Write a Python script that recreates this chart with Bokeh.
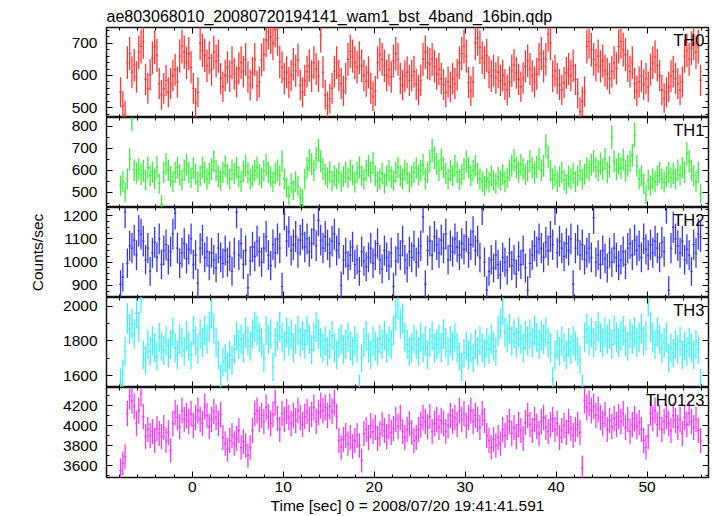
import numpy as np
from bokeh.plotting import figure
from bokeh.layouts import column
from bokeh.models import (ColumnDataSource, LinearAxis, Range1d, Label,
                          SingleIntervalTicker, Title, CustomLabelingPolicy)
from bokeh.embed import file_html
from bokeh.resources import INLINE

# ---------------- data ----------------
title_text = "ae803068010_20080720194141_wam1_bst_4band_16bin.qdp"
xlabel_text = "Time [sec] 0 = 2008/07/20 19:41:41.591"
ylabel_text = "Counts/sec"
band_names = ["TH0", "TH1", "TH2", "TH3", "TH0123"]
t_start = -7.875   # centre of first bin [s]
bin_width = 0.25   # [s]

th0 = [548, 505, 478, 640, 668, 610, 632, 595, 672, 690,
       705, 588, 560, 602, 655, 688, 662, 575, 540, 560,
       585, 548, 575, 600, 618, 580, 660, 690, 672, 640,
       668, 625, 560, 515, 548, 700, 678, 662, 630, 655,
       618, 672, 645, 660, 590, 565, 600, 625, 598, 640,
       605, 580, 622, 640, 612, 650, 595, 570, 608, 650,
       568, 580, 648, 665, 710, 735, 720, 700, 742, 715,
       642, 625, 590, 610, 578, 600, 635, 615, 648, 570,
       548, 585, 612, 630, 598, 640, 620, 598, 725, 610,
       540, 505, 528, 560, 612, 640, 600, 575, 552, 590,
       650, 675, 660, 640, 625, 655, 630, 600, 582, 610,
       560, 535, 552, 640, 665, 650, 630, 600, 618, 595,
       645, 668, 650, 590, 570, 598, 610, 585, 600, 612,
       572, 555, 585, 650, 672, 640, 635, 650, 628, 605,
       620, 590, 572, 548, 580, 565, 590, 575, 602, 640,
       668, 690, 660, 578, 552, 580, 700, 715, 688, 655,
       640, 662, 610, 598, 615, 592, 610, 585, 600, 572,
       555, 580, 615, 632, 608, 588, 565, 592, 628, 645,
       620, 598, 580, 605, 650, 668, 628, 650, 728, 700,
       598, 615, 590, 572, 555, 578, 608, 620, 600, 630,
       588, 545, 488, 520, 550, 690, 705, 680, 650, 632,
       660, 628, 645, 615, 605, 590, 612, 640, 622, 690,
       705, 680, 665, 630, 612, 640, 575, 552, 580, 598,
       572, 590, 565, 618, 640, 658, 632, 600, 555, 530,
       548, 565, 598, 612, 590, 575, 555, 580, 660, 678,
       650, 685, 700, 672, 690, 585]

th1 = [530, 548, 500, 560, 650, 835, 600, 588, 605, 580,
       598, 555, 612, 575, 590, 560, 615, 540, 445, 590,
       628, 600, 572, 548, 590, 612, 580, 555, 600, 625,
       590, 565, 608, 582, 548, 575, 612, 590, 560, 585,
       605, 640, 598, 572, 555, 590, 618, 582, 560, 600,
       585, 612, 570, 548, 595, 620, 588, 560, 575, 598,
       612, 580, 565, 598, 625, 590, 570, 548, 585, 600,
       575, 640, 560, 520, 485, 540, 510, 548, 528, 478,
       470, 560, 610, 645, 628, 600, 655, 690, 640, 605,
       580, 565, 592, 550, 575, 560, 588, 548, 570, 590,
       565, 600, 578, 545, 590, 612, 575, 560, 598, 620,
       590, 632, 575, 548, 560, 585, 540, 575, 598, 568,
       552, 590, 612, 575, 560, 600, 585, 545, 572, 590,
       610, 578, 598, 625, 560, 590, 640, 690, 655, 628,
       600, 648, 612, 585, 560, 598, 575, 620, 590, 558,
       580, 605, 640, 612, 575, 598, 620, 585, 560, 548,
       528, 560, 545, 575, 552, 540, 568, 555, 580, 548,
       565, 600, 620, 645, 612, 590, 625, 605, 580, 598,
       640, 612, 588, 615, 650, 600, 620, 710, 660, 598,
       560, 575, 548, 570, 590, 555, 538, 572, 560, 585,
       548, 575, 598, 560, 582, 610, 600, 625, 640, 612,
       598, 630, 605, 650, 590, 615, 750, 640, 605, 628,
       610, 648, 598, 620, 640, 668, 760, 620, 560, 575,
       540, 490, 555, 530, 560, 548, 575, 590, 560, 545,
       570, 590, 565, 585, 560, 600, 578, 612, 590, 675,
       640, 600, 575, 548, 590, 495]

th2 = [905, 935, 1215, 995, 1070, 1060, 1095, 1030, 1135, 1120,
       1090, 1010, 1060, 960, 1040, 1085, 1020, 1100, 990, 1050,
       1075, 1010, 1045, 1120, 1210, 1060, 995, 1040, 1080, 1015,
       1055, 1100, 990, 1030, 910, 1060, 1095, 1020, 1045, 985,
       1040, 1010, 975, 1060, 1020, 995, 1050, 1000, 1025, 960,
       1040, 1215, 1030, 1080, 990, 1050, 890, 1005, 1065, 1025,
       1090, 1045, 1000, 1060, 1110, 1030, 985, 1075, 1040, 1100,
       1060, 895, 1205, 1090, 1130, 1050, 1075, 1110, 1040, 1095,
       1120, 1065, 1100, 1045, 1080, 1140, 1070, 1180, 1095, 1060,
       1110, 1075, 1040, 1090, 1120, 1050, 1080, 900, 1010, 1040,
       985, 1030, 1065, 990, 1010, 960, 1045, 1005, 980, 1020,
       1060, 995, 1030, 1080, 1010, 970, 1050, 1020, 985, 1040,
       895, 1005, 1060, 1030, 1090, 1010, 975, 1045, 1020, 1070,
       1000, 1040, 1070, 1195, 905, 1050, 1090, 1030, 1110, 1075,
       1040, 1095, 1060, 1120, 1010, 1070, 1045, 1100, 1065, 1030,
       1080, 1055, 1110, 1040, 1075, 1130, 1050, 1090, 1020, 1230,
       1000, 880, 960, 1010, 975, 1030, 990, 945, 1020, 1000,
       965, 1040, 985, 1010, 950, 1025, 990, 1050, 975, 880,
       995, 1030, 1070, 1045, 1100, 1060, 1020, 1085, 1050, 1110,
       1075, 1230, 1040, 1090, 1060, 1025, 1080, 1050, 1100, 905,
       1060, 1095, 1030, 1075, 1010, 1040, 1060, 1020, 1190, 1000,
       1030, 990, 1050, 1015, 975, 1040, 1000, 1060, 1020, 985,
       1010, 1045, 990, 1060, 1080, 1030, 1095, 1050, 1070, 1020,
       1100, 1055, 1030, 1075, 1040, 1090, 1060, 1020, 1085, 1045,
       1235, 880, 1060, 1150, 1100, 1070, 1040, 1090, 1010, 1055,
       1030, 960, 1075, 1040, 1120, 1110]

th3 = [1560, 1610, 1740, 1930, 1870, 1900, 1840, 1960, 1880, 2050,
       1720, 1690, 1780, 1740, 1800, 1760, 1710, 1820, 1770, 1745,
       1800, 1730, 1780, 1850, 1760, 1720, 1810, 1790, 1740, 1830,
       1770, 1720, 1860, 1800, 1750, 1840, 1790, 1860, 1810, 1880,
       1960, 1870, 1790, 1720, 1590, 1680, 1700, 1650, 1720, 1690,
       1750, 1830, 1780, 1810, 1760, 1850, 1800, 1770, 1840, 1880,
       1860, 1820, 1790, 1700, 1860, 1810, 1840, 1650, 1790, 1830,
       1880, 1820, 1770, 1850, 1800, 1840, 1760, 1810, 1860, 1790,
       1830, 1780, 1860, 1810, 1750, 1820, 1880, 1840, 1790, 1760,
       1800, 1740, 1780, 1830, 1760, 1720, 1790, 1810, 1750, 1780,
       1820, 1770, 1740, 1800, 1760, 1530, 1700, 1790, 1830, 1760,
       1720, 1800, 1770, 1740, 1810, 1780, 1830, 1760, 1800, 1780,
       1860, 1950, 2010, 1900, 1930, 1820, 1780, 1740, 1760, 1810,
       1780, 1740, 1820, 1760, 1800, 1720, 1790, 1830, 1760, 1780,
       1810, 1760, 1840, 1790, 1740, 1800, 1770, 1820, 1760, 1710,
       1650, 1730, 1770, 1720, 1760, 1700, 1780, 1740, 1800, 1760,
       1730, 1790, 1750, 1810, 1770, 1740, 1860, 1900, 1980, 1850,
       1820, 1870, 1800, 1840, 1790, 1850, 1810, 1760, 1830, 1800,
       1840, 1790, 1860, 1820, 1780, 1830, 1810, 1850, 1790, 1760,
       1570, 1720, 1780, 1740, 1800, 1760, 1720, 1790, 1750, 1800,
       1770, 1740, 1690, 1530, 1820, 1870, 1800, 1850, 1790, 1830,
       1880, 1820, 1790, 1850, 1810, 1840, 1780, 1860, 1820, 1790,
       1830, 1860, 1800, 1770, 1840, 1810, 1850, 1790, 1820, 1870,
       1800, 1830, 2030, 1880, 1820, 1780, 1850, 1810, 1760, 1790,
       1820, 1700, 1760, 1730, 1780, 1750, 1800, 1720, 1770, 1740,
       1790, 1760, 1720, 1780, 1750, 1560]

th0123 = [3550, 3620, 3690, 4120, 4290, 4250, 4190, 4020, 4150, 4320,
          4090, 3890, 3960, 3900, 3940, 3850, 3970, 3920, 3890, 3980,
          3850, 3930, 3750, 4020, 4130, 4080, 3990, 4150, 4060, 4100,
          4040, 4120, 4000, 4080, 4150, 4060, 4020, 4190, 4100, 3990,
          4060, 4140, 4080, 4020, 4110, 3880, 3820, 3760, 3850, 3900,
          3820, 3870, 3950, 3780, 3840, 3800, 3700, 3780, 3950, 4120,
          4150, 4060, 4100, 4040, 4180, 4090, 4020, 4110, 4230, 4070,
          3960, 4120, 4060, 4140, 4080, 4020, 4100, 4050, 4150, 4080,
          4010, 4090, 4140, 4060, 4110, 4180, 4040, 4130, 4200, 4150,
          4180, 4100, 4190, 4140, 4230, 4090, 3850, 3780, 3860, 3900,
          3820, 3880, 3790, 3850, 3900, 3800, 3650, 3920, 3960, 3880,
          4000, 3940, 3980, 3870, 3920, 4010, 3950, 3890, 3990, 3930,
          3970, 4060, 3990, 4080, 3940, 3880, 3960, 4020, 3930, 3850,
          3880, 3960, 4010, 4080, 4040, 3990, 4090, 3940, 4020, 4060,
          3980, 4050, 4020, 3940, 4000, 4100, 4040, 4080, 4010, 4150,
          4060, 4120, 4000, 4080, 4150, 4040, 4100, 4060, 3980, 4120,
          4050, 3900, 3850, 3780, 3860, 3800, 3880, 3820, 3960, 3900,
          3980, 4040, 3920, 3980, 3890, 4010, 3950, 3870, 4030, 4100,
          4010, 3950, 4060, 3990, 3920, 4040, 4080, 3980, 3940, 4010,
          4060, 3960, 4020, 3880, 3950, 4000, 3930, 4040, 3970, 3900,
          3960, 4010, 3930, 3580, 4250, 4180, 4220, 4150, 4190, 4100,
          4160, 4080, 4020, 4110, 3960, 4050, 3990, 4070, 4010, 4090,
          4040, 4120, 3980, 4060, 3940, 4010, 4070, 3990, 4030, 3960,
          3850, 3780, 3890, 4120, 4070, 4150, 4010, 4080, 3960, 4040,
          4090, 4020, 3950, 4100, 4050, 3980, 4060, 3920, 4080, 4010,
          4120, 4040, 3980, 4060, 3950, 3850]

series = [th0, th1, th2, th3, th0123]

# ---------------- styling / layout ----------------
colors = ["#ff3535", "#38f038", "#3535f5", "#38f5f5", "#f538f5"]
y_limits = [(469.7, 748.8), (430.5, 839.5), (848.0, 1234.8),
            (1531.0, 2051.0), (3480.0, 4380.0)]
y_major = [100, 100, 100, 200, 200]
y_minor_n = [5, 2, 4, 2, 2]
frame_h = [90, 90, 90, 90, 90]
FONT = "Liberation Sans"
FS = "15.5px"

x_range = Range1d(-9.42, 56.75)

hide_labels = CustomLabelingPolicy(code="""
try { for (let i = 0; i < indices.size; i++) { indices.unset(i) } } catch (e) {}
return indices
""")


def style_axis(ax, show_labels):
    ax.major_tick_in = 6
    ax.major_tick_out = 0
    ax.minor_tick_in = 3
    ax.minor_tick_out = 0
    ax.axis_line_color = None
    ax.major_tick_line_color = "black"
    ax.minor_tick_line_color = "black"
    ax.major_tick_line_width = 1
    ax.minor_tick_line_width = 1
    ax.major_label_text_font = FONT
    ax.major_label_text_color = "black"
    ax.major_label_text_line_height = 1.0
    ax.axis_label_text_color = "black"
    if show_labels:
        ax.major_label_text_font_size = FS
        ax.major_label_standoff = 9
    else:
        ax.major_label_text_font_size = "0px"
        ax.major_label_standoff = 0
        ax.major_label_policy = hide_labels
        ax.axis_label = None


figs = []
n = len(series)
for k in range(n):
    first = k == 0
    last = k == n - 1
    top = 27 if first else 0
    bottom = 39 if last else 0
    p = figure(width=717, height=frame_h[k] + top + bottom,
               x_range=x_range, y_range=Range1d(*y_limits[k]),
               output_backend="svg", toolbar_location=None,
               min_border_left=106, min_border_right=9,
               min_border_top=top, min_border_bottom=bottom)
    p.outline_line_color = "#111111"
    p.outline_line_width = 1.5
    p.grid.visible = False
    p.background_fill_color = "white"
    p.border_fill_color = "white"

    vals = np.array(series[k], dtype=float)
    t = t_start + bin_width * np.arange(len(vals))
    err = np.sqrt(vals * bin_width) / bin_width
    src = ColumnDataSource(dict(t=t, tl=t - bin_width / 2, tr=t + bin_width / 2,
                                v=vals, lo=vals - err, hi=vals + err))
    p.segment(x0="t", y0="lo", x1="t", y1="hi", source=src,
              line_color=colors[k], line_width=1.3)
    p.segment(x0="tl", y0="v", x1="tr", y1="v", source=src,
              line_color=colors[k], line_width=1.3)

    xt = SingleIntervalTicker(interval=10, num_minor_ticks=5)
    yt = SingleIntervalTicker(interval=y_major[k], num_minor_ticks=y_minor_n[k])
    left_ax = p.left[0]
    below_ax = p.below[0]
    left_ax.ticker = yt
    below_ax.ticker = xt
    style_axis(left_ax, True)
    style_axis(below_ax, last)
    right_ax = LinearAxis(ticker=yt)
    style_axis(right_ax, False)
    p.add_layout(right_ax, "right")
    above_ax = LinearAxis(ticker=xt)
    style_axis(above_ax, False)
    p.add_layout(above_ax, "above")

    if last:
        below_ax.axis_label = xlabel_text
        below_ax.axis_label_text_font = FONT
        below_ax.axis_label_text_font_size = FS
        below_ax.axis_label_text_font_style = "normal"
        below_ax.axis_label_text_line_height = 1.0
        below_ax.axis_label_standoff = 2
        below_ax.major_label_standoff = 4
    if k == 2:
        left_ax.axis_label = ylabel_text
        left_ax.axis_label_text_font = FONT
        left_ax.axis_label_text_font_size = FS
        left_ax.axis_label_text_font_style = "normal"
        left_ax.axis_label_standoff = 14
    if first:
        p.add_layout(Title(text=title_text, align="left", text_font=FONT,
                           text_font_size="16px", text_font_style="normal",
                           text_color="black",
                           text_line_height=1.0, standoff=6), "above")

    y0, y1 = y_limits[k]
    p.add_layout(Label(x=56.3, y=y1 - 0.035 * (y1 - y0), text=band_names[k],
                       text_align="right", text_baseline="top",
                       text_font=FONT, text_font_size="16.5px",
                       text_color="black"))
    figs.append(p)

layout = column(*figs, spacing=0)
open("out.html", "w").write(file_html(layout, INLINE))
